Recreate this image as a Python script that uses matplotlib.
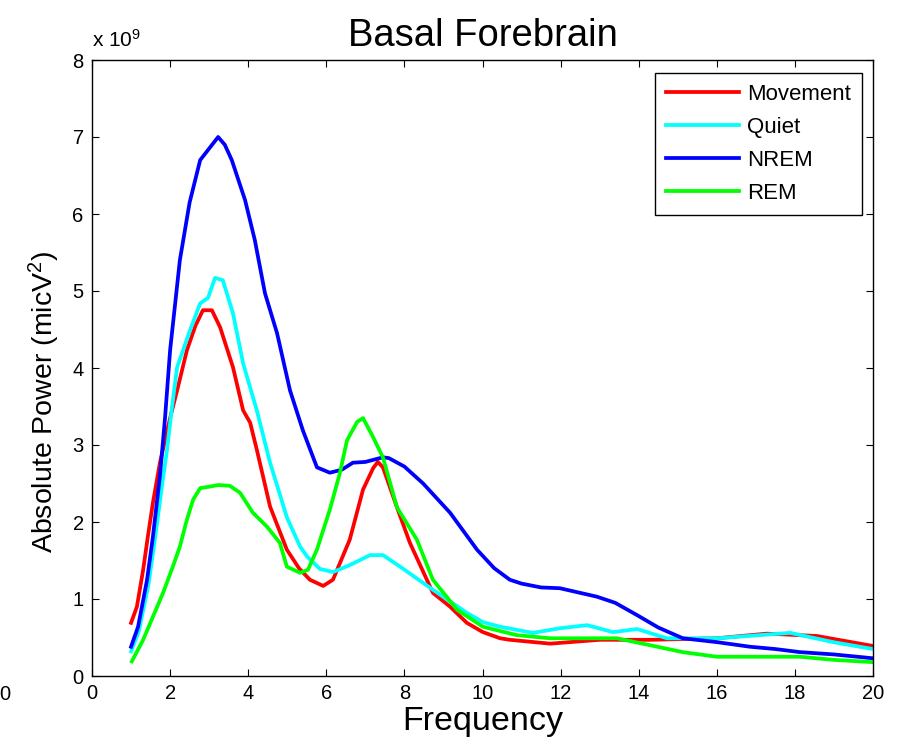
import matplotlib
matplotlib.use("Agg")
import matplotlib.pyplot as plt

plt.rcParams['font.family'] = ['Liberation Sans', 'DejaVu Sans']
plt.rcParams['mathtext.fontset'] = 'custom'
plt.rcParams['mathtext.rm'] = 'Liberation Sans'
plt.rcParams['mathtext.it'] = 'Liberation Sans'

title = "Basal Forebrain"
xlabel = "Frequency"
ylabel = r"Absolute Power (micV$^2$)"
xticks = list(range(0, 21, 2))
yticks = list(range(0, 9))

# values in units of 1e9 micV^2
move_f = [1.0, 1.15, 1.31, 1.43, 1.56, 1.74, 2.0, 2.2, 2.43, 2.65, 2.84, 3.07, 3.28, 3.61, 3.87,
          4.05, 4.22, 4.56, 4.99, 5.3, 5.58, 5.92, 6.17, 6.6, 6.94, 7.2, 7.32, 7.45, 7.81, 8.14,
          8.73, 9.17, 9.6, 10.01, 10.45, 10.7, 11.73, 13.0, 14.29, 16.0, 17.28, 18.56, 20.0]
move_p = [0.69, 0.9, 1.38, 1.81, 2.25, 2.77, 3.35, 3.75, 4.23, 4.55, 4.75, 4.75, 4.53, 4.01, 3.45,
          3.29, 2.94, 2.2, 1.64, 1.4, 1.25, 1.17, 1.25, 1.77, 2.42, 2.7, 2.78, 2.71, 2.19, 1.73,
          1.08, 0.9, 0.69, 0.57, 0.49, 0.47, 0.42, 0.47, 0.47, 0.49, 0.55, 0.52, 0.39]

quiet_f = [1.0, 1.2, 1.45, 1.62, 1.8, 1.92, 2.05, 2.18, 2.51, 2.77, 2.97, 3.15, 3.35, 3.61, 3.87,
           4.22, 4.56, 4.99, 5.33, 5.51, 5.84, 6.17, 6.6, 7.12, 7.45, 7.89, 8.73, 9.6, 10.01,
           10.45, 11.29, 11.98, 12.68, 13.34, 13.96, 14.72, 16.0, 17.88, 18.98, 20.0]
quiet_p = [0.32, 0.58, 1.2, 1.81, 2.5, 2.93, 3.5, 4.01, 4.49, 4.84, 4.91, 5.17, 5.14, 4.71, 4.06,
           3.45, 2.77, 2.06, 1.68, 1.55, 1.39, 1.35, 1.44, 1.57, 1.57, 1.42, 1.12, 0.82, 0.70,
           0.64, 0.56, 0.62, 0.66, 0.57, 0.61, 0.49, 0.49, 0.56, 0.44, 0.35]

nrem_f = [1.0, 1.18, 1.41, 1.56, 1.74, 1.87, 2.0, 2.25, 2.5, 2.77, 3.0, 3.23, 3.4, 3.58, 3.92,
          4.17, 4.43, 4.74, 5.07, 5.4, 5.76, 6.09, 6.4, 6.68, 7.0, 7.45, 7.6, 8.0, 8.48, 9.17,
          9.86, 10.3, 10.7, 11.0, 11.5, 11.98, 12.93, 13.4, 13.96, 14.5, 15.13, 16.0, 16.85,
          17.5, 18.13, 19.0, 20.0]
nrem_p = [0.38, 0.64, 1.25, 1.81, 2.6, 3.35, 4.23, 5.4, 6.15, 6.7, 6.85, 7.0, 6.9, 6.7, 6.18,
          5.66, 4.97, 4.45, 3.71, 3.19, 2.71, 2.64, 2.68, 2.77, 2.78, 2.84, 2.83, 2.72, 2.5, 2.12,
          1.64, 1.4, 1.25, 1.2, 1.15, 1.14, 1.03, 0.95, 0.79, 0.63, 0.49, 0.44, 0.38,
          0.35, 0.31, 0.28, 0.23]

rem_f = [1.02, 1.31, 1.56, 1.82, 2.07, 2.25, 2.43, 2.59, 2.77, 3.02, 3.23, 3.53, 3.79, 4.12,
         4.48, 4.81, 4.99, 5.33, 5.53, 5.76, 6.09, 6.35, 6.53, 6.79, 6.94, 7.2, 7.45, 7.81, 8.32,
         8.73, 9.35, 10.01, 10.88, 11.73, 13.44, 14.29, 15.13, 16.0, 18.13, 18.98, 20.0]
rem_p = [0.19, 0.47, 0.77, 1.08, 1.42, 1.68, 2.03, 2.29, 2.44, 2.46, 2.48, 2.47, 2.38, 2.12,
         1.94, 1.73, 1.42, 1.34, 1.38, 1.64, 2.16, 2.64, 3.06, 3.3, 3.35, 3.1, 2.84, 2.19, 1.77,
         1.25, 0.86, 0.64, 0.53, 0.49, 0.49, 0.40, 0.31, 0.25, 0.25, 0.21, 0.18]

series = [("Movement", move_f, move_p, "#ff0000"),
          ("Quiet", quiet_f, quiet_p, "#00ffff"),
          ("NREM", nrem_f, nrem_p, "#0000ff"),
          ("REM", rem_f, rem_p, "#00ff00")]

fig = plt.figure(figsize=(8.97, 7.53), dpi=100)
ax = fig.add_axes([92/897, 77/753, 781/897, 616/753])

for name, f, p, c in series:
    ax.plot(f, p, color=c, lw=2.7, label=name)

ax.set_xlim(0, 20)
ax.set_ylim(0, 8)
ax.set_xticks(xticks)
ax.set_yticks(yticks)
ax.tick_params(direction='in', length=5, width=0.8, top=True, right=True, labelsize=14.5, pad=6)
for s in ax.spines.values():
    s.set_linewidth(1.0)

ax.set_title(title, fontsize=27.5, pad=10)
ax.set_xlabel(xlabel, fontsize=24.5, labelpad=2)
ax.set_ylabel(ylabel, fontsize=20.5)
ax.yaxis.set_label_coords(-0.038, 0.445)

ax.text(0.0, 1.021, r"x 10$^{9}$", transform=ax.transAxes, fontsize=15, ha='left', va='baseline')
fig.text(5/897, 1 - 694/753, "0", fontsize=14.5, ha='center', va='center')

leg = ax.legend(loc='upper right', bbox_to_anchor=(0.986, 0.979), borderaxespad=0,
                fontsize=16, handlelength=3.3, handletextpad=0.36, labelspacing=0.54,
                borderpad=0.5, fancybox=False, framealpha=1, edgecolor='black')
leg.get_frame().set_linewidth(1.0)

fig.savefig("out.png", dpi=100)
